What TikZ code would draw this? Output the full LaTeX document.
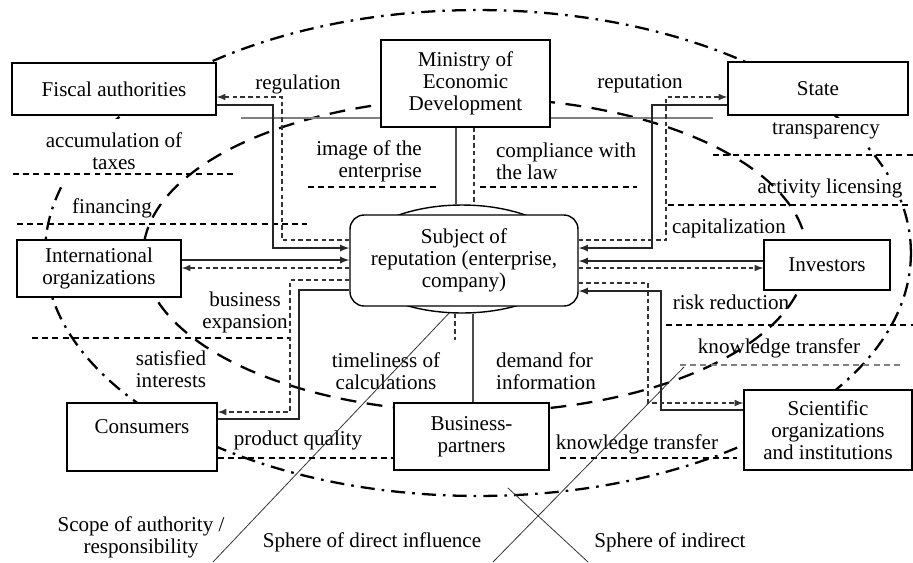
\documentclass[tikz,border=0pt]{standalone}
\usepackage{fontspec}
\setmainfont{Liberation Serif}
\usetikzlibrary{shapes.geometric}

\begin{document}
\begin{tikzpicture}[x=0.02cm,y=-0.02cm,
  every node/.style={font=\fontsize{12}{12.5}\selectfont},
  mybox/.style={draw,fill=white,line width=0.8pt,align=center,inner sep=1pt},
  mylabel/.style={fill=white,align=center,inner sep=1pt},
  mylink/.style={line width=0.8pt,black!85},
  myback/.style={line width=0.7pt,dash pattern=on 2.6pt off 1.8pt,black!80},
  myrule/.style={line width=0.6pt,dash pattern=on 3.4pt off 2.4pt},
  myzone/.style={line width=1.3pt,dash pattern=on 9pt off 6pt},
  myreach/.style={line width=1.3pt,dash pattern=on 8pt off 4pt on 1.5pt off 4pt},
  mysector/.style={line width=0.45pt,black!80}
]
\useasboundingbox (0,0) rectangle (913,562);

\draw[myreach] (478,253) ellipse [x radius=8.66cm,y radius=4.86cm];

\node[mylabel] (lreg) at (298,84) {regulation};
\node[mylabel] (lrep) at (640,84) {reputation};
\node[mylabel,inner ysep=7.5pt] (ltax) at (114,151) {accumulation of\\taxes};
\node[mylabel] (lfin) at (112,208) {financing};
\node[mylabel,align=right] (limg) at (369,161) {image of the\\enterprise};
\node[mylabel,align=left,anchor=west] (llaw) at (494,161) {compliance with\\the law};
\node[mylabel,inner ysep=3pt] (ltra) at (826,131) {transparency};
\node[mylabel] (llic) at (830,188) {activity licensing};
\node[mylabel] (lcap) at (729,228) {capitalization};
\node[mylabel] (lexp) at (245,312) {business\\expansion};
\node[mylabel,align=left] (lsat) at (171,369) {satisfied\\interests};
\node[mylabel] (ltim) at (386,371) {timeliness of\\calculations};
\node[mylabel,align=left] (ldem) at (546,371) {demand for\\information};
\node[mylabel] (lrisk) at (731,302) {risk reduction};
\node[mylabel] (lkn1) at (779,348) {knowledge transfer};
\node[mylabel] (lqual) at (298,440) {product quality};
\node[mylabel] (lkn2) at (637,444) {knowledge transfer};
\node[mylabel] (lscope) at (141,537) {Scope of authority /\\responsibility};
\node[mylabel] (ldir) at (372,542) {Sphere of direct influence};
\node[mylabel] (lind) at (670,542) {Sphere of indirect};

\draw[myzone] (475,255) ellipse [x radius=6.64cm,y radius=3.14cm];
\draw[line width=1.2pt,gray] (241,118) -- (713,118);
\draw[myrule] (13,174) -- (237,174);
\draw[myrule] (17,224) -- (307,224);
\draw[myrule] (308,187) -- (440,187);
\draw[myrule] (480,187) -- (637,187);
\draw[myrule] (713,155) -- (913,155);
\draw[myrule] (668,205) -- (913,205);
\draw[myrule] (32,338) -- (290,338);
\draw[myrule] (666,325) -- (913,325);
\draw[myrule,gray] (680,365) -- (903,365);
\draw[myrule] (560,458) -- (737,458);
\draw[mysector] (213,562) -- (452,310);
\draw[mysector] (493,562) -- (684,367);
\draw[mysector] (508,488) -- (588,562);

\node[mybox,minimum width=4.08cm,minimum height=1.04cm] (fiscal) at (114,89) {Fiscal authorities};
\node[mybox,minimum width=3.38cm,minimum height=1.74cm] (ministry) at (465.5,83.5) {Ministry of\\Economic\\Development};
\node[mybox,minimum width=3.60cm,minimum height=1.06cm] (state) at (818,88.5) {State};
\node[mybox,minimum width=3.28cm,minimum height=1.14cm] (intl) at (99,268.5) {International\\organizations};
\node[draw,ellipse,fill=white,line width=0.8pt,minimum width=4.36cm,minimum height=2.16cm,inner sep=0pt] (hub) at (462,259) {};
\node[mybox,rounded corners=8pt,minimum width=4.56cm,minimum height=1.82cm] (subject) at (464,260.5) {Subject of\\reputation (enterprise,\\company)};
\node[mybox,minimum width=2.52cm,minimum height=1.00cm] (investors) at (827,265) {Investors};
\node[mybox,minimum width=3.00cm,minimum height=1.36cm] (consumers) at (142,437) {Consumers\\~};
\node[mybox,minimum width=3.10cm,minimum height=1.34cm] (business) at (471.5,436.5) {Business-\\partners};
\node[mybox,minimum width=3.36cm,minimum height=1.60cm] (scientific) at (828,430) {Scientific\\organizations\\and institutions};

\draw[myrule] (consumers.east |- 0,458) -- (business.west |- 0,458);

\draw[mylink,-latex] (fiscal.east |- 0,105) -| (273,248) -- (subject.west |- 0,248);
\draw[myback,-latex] (subject.west |- 0,240) -| (282,97) -- (fiscal.east |- 0,97);
\path (intl.east |- 0,260) edge[mylink,-latex] (subject.west |- 0,260);
\path (subject.west |- 0,268) edge[myback,-latex] (intl.east |- 0,268);
\draw[myback,-latex] (subject.west |- 0,280) -| (290,412) -- (consumers.east |- 0,412);
\draw[mylink] (consumers.east |- 0,419) -| (299,290) -- (subject.west |- 0,290);

\draw[mylink,-latex] (state.west |- 0,105) -| (652,248) -- (subject.east |- 0,248);
\draw[myback,-latex] (subject.east |- 0,240) -| (666,97) -- (state.west |- 0,97);
\path (investors.west |- 0,261) edge[mylink,-latex] (subject.east |- 0,261);
\path (subject.east |- 0,268) edge[myback,-latex] (investors.west |- 0,268);
\draw[mylink,-latex] (scientific.west |- 0,410) -| (661,291) -- (subject.east |- 0,291);
\draw[myback,-latex] (subject.east |- 0,283) -| (648,403) -- (scientific.west |- 0,403);

\draw[mylink,black!70] (ministry.south -| 456,0) -- (hub.north -| 456,0);
\draw[myback] (ministry.south -| 474,0) -- (hub.north -| 474,0);
\draw[mylink,black!70] (hub.south -| 473,0) -- (business.north -| 473,0);
\draw[myback] (hub.south -| 455,0) -- (455,340);
\end{tikzpicture}
\end{document}
